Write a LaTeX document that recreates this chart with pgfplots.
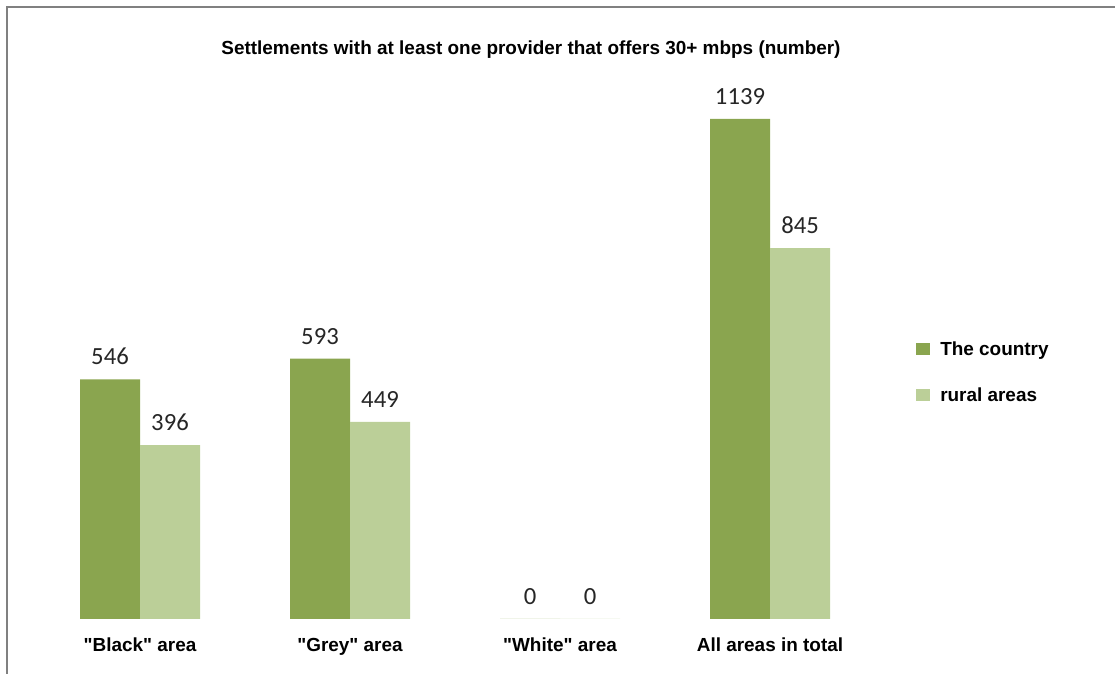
\documentclass[border=0pt]{standalone}
\usepackage{fontspec}
\setmainfont{Liberation Sans}[Ligatures=TeXOff]
\newfontfamily\carlito{Carlito}
\usepackage{pgfplots}
\pgfplotsset{compat=1.18}
\definecolor{dgreen}{RGB}{138,165,79}
\definecolor{lgreen}{RGB}{187,207,152}
\definecolor{frame}{RGB}{128,128,128}
\begin{document}
\begin{tikzpicture}[x=0.75pt,y=0.75pt]
\useasboundingbox (0,0) rectangle (1115,674);
\draw[frame, line width=1.5pt] (7,0) -- (7,667) -- (1115,667);
\node[font=\bfseries\fontsize{14.2}{16}\selectfont, anchor=base, inner sep=0pt] at (531,619) {Settlements with at least one provider that offers 30+ mbps (number)};
\begin{axis}[
  at={(26.25pt,41.25pt)}, anchor=south west,
  scale only axis, width=630pt, height=395.1pt,
  xmin=-0.5, xmax=3.5, ymin=0, ymax=1200,
  ybar=0pt, bar width=45pt,
  clip=false,
  axis line style={draw=none},
  ytick=\empty,
  xtick={0,1,2,3},
  major tick length=0pt,
  xticklabels={{\char34 Black\char34{} area},{\char34 Grey\char34{} area},{\char34 White\char34{} area},{All areas in total}},
  xticklabel style={font=\bfseries\fontsize{14.2}{16}\selectfont, inner sep=0pt, yshift=-14.25pt},
  nodes near coords,
  nodes near coords style={font=\carlito\fontsize{18.5}{20}\selectfont, inner sep=0pt, anchor=base, yshift=10.8pt, text=black!85,
    /pgf/number format/assume math mode=true, /pgf/number format/1000 sep={}},
  legend style={at={(1.0488,0.5264)}, anchor=north west, draw=none, fill=none,
    font=\bfseries\fontsize{14.2}{16}\selectfont, row sep=24.3pt, column sep=7.5pt, inner sep=0pt,
    nodes={inner sep=0pt, text height=10.2pt, text depth=0pt}},
  legend cell align=left,
  legend image code/.code={\path[#1, draw=none] (0pt,-4.5pt) rectangle (10.5pt,4.5pt);},
]
\addplot[fill=dgreen, draw=none] coordinates {(0,546) (1,593) (2,0) (3,1139)};
\addplot[fill=lgreen, draw=none] coordinates {(0,396) (1,449) (2,0) (3,845)};
\legend{The country, rural areas}
\end{axis}
\end{tikzpicture}
\end{document}
